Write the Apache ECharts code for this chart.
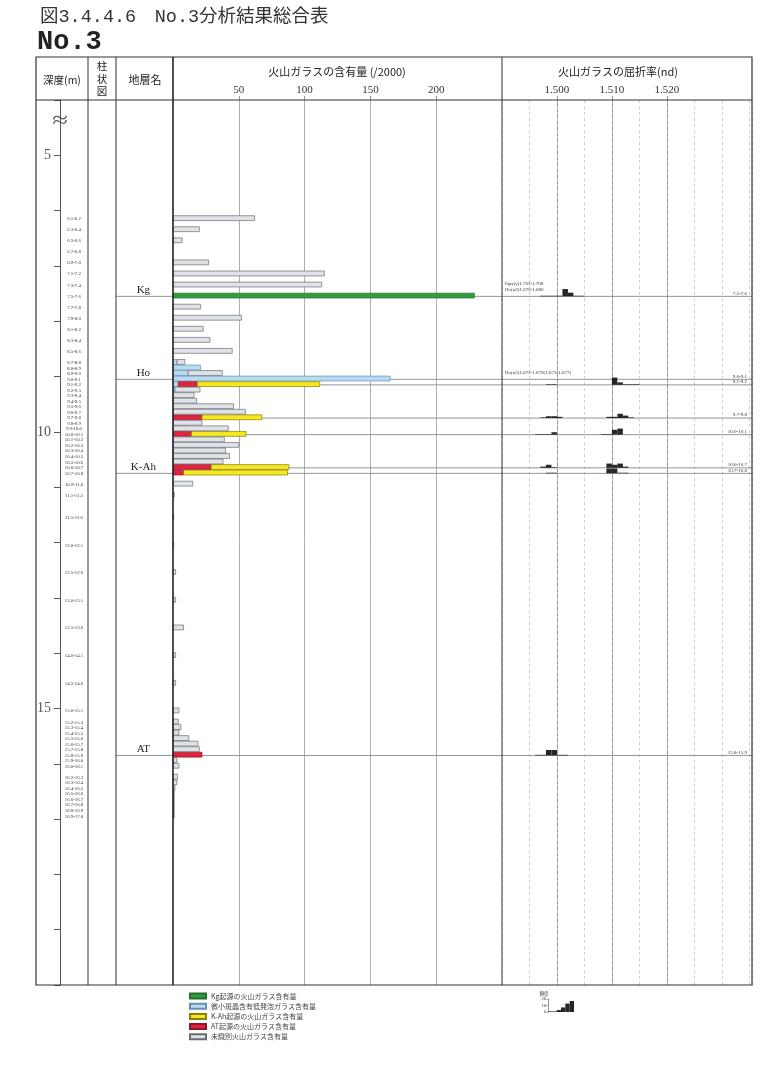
<!DOCTYPE html>
<html><head><meta charset="utf-8">
<script src="https://cdn.jsdelivr.net/npm/echarts@6.0.0/dist/echarts.min.js"></script>
<style>html,body{margin:0;padding:0;background:#fff}#c{width:768px;height:1070px}</style>
</head><body><div id="c"></div>
<script>
// ---------------- DATA ----------------
const sampleLabels = [
 '6.1-6.2','6.3-6.4','6.5-6.6','6.7-6.8','6.9-7.0','7.1-7.2','7.3-7.4','7.5-7.6','7.7-7.8','7.9-8.0',
 '8.1-8.2','8.3-8.4','8.5-8.6','8.7-8.8','8.8-8.9','8.9-9.0','9.0-9.1','9.1-9.2','9.2-9.3','9.3-9.4',
 '9.4-9.5','9.5-9.6','9.6-9.7','9.7-9.8','9.8-9.9','9.9-10.0','10.0-10.1','10.1-10.2','10.2-10.3','10.3-10.4',
 '10.4-10.5','10.5-10.6','10.6-10.7','10.7-10.8','10.9-11.0','11.1-11.2','11.5-11.6','12.0-12.1','12.5-12.6','13.0-13.1',
 '13.5-13.6','14.0-14.1','14.5-14.6','15.0-15.1','15.2-15.3','15.3-15.4','15.4-15.5','15.5-15.6','15.6-15.7','15.7-15.8',
 '15.8-15.9','15.9-16.0','16.0-16.1','16.2-16.3','16.3-16.4','16.4-16.5','16.5-16.6','16.6-16.7','16.7-16.8','16.8-16.9',
 '16.9-17.0'];
// glass content (/2000), aligned with sampleLabels
const kgGlass = [
 0,0,0,0,0,0,0,229,0,0,
 0,0,0,0,0,0,0,0,0,0,
 0,0,0,0,0,0,0,0,0,0,
 0,0,0,0,0,0,0,0,0,0,
 0,0,0,0,0,0,0,0,0,0,
 0,0,0,0,0,0,0,0,0,0,
 0];
const lowVesGlass = [
 0,0,0,0,0,0,0,0,0,0,
 0,0,0,3,21,11.5,165,4,1.5,0,
 0,0,0,0,0,0,0,0,0,0,
 0,0,0,0,0,0,0,0,0,0,
 0,0,0,0,0,0,0,0,0,0,
 0,0,0,0,0,0,0,0,0,0,
 0];
const atGlass = [
 0,0,0,0,0,0,0,0,0,0,
 0,0,0,0,0,0,0,14.5,0,0,
 0,0,0,22,0,0,14,0,0,0,
 0,0,29,8,0,0,0,0,0,0,
 0,0,0,0,0,0,0,0,0,0,
 22,0,0,0,0,0,0,0,0,0,
 0];
const kahGlass = [
 0,0,0,0,0,0,0,0,0,0,
 0,0,0,0,0,0,0,93,0,0,
 0,0,0,45.5,0,0,41.5,0,0,0,
 0,0,59,79,0,0,0,0,0,0,
 0,0,0,0,0,0,0,0,0,0,
 0,0,0,0,0,0,0,0,0,0,
 0];
const unknownGlass = [
 62,20,7,0,27,115,113,0,21,52,
 23,28,45,6,0,26,0,0,19,16,
 18,46,55,0,22,42,0,39,50,40,
 43,38,0,0,15,1,0.5,0.5,2,2,
 8,2,2,4.5,4,6,4.5,12,19,20,
 0,3,4.5,3.5,3,1.5,1,1,1,1,
 1];
const contentTicks = [50,100,150,200];
const riTicks = [1.500,1.510,1.520];
const depthLabels = [5,10,15];

const layerNames = ['Kg','Ho','K-Ah','AT'];
const layerDepths = [7.55, 9.05, 10.75, 15.85];

const analyzedLabels = ['7.5-7.6','9.0-9.1','9.1-9.2','9.7-9.8','10.0-10.1','10.6-10.7','10.7-10.8','15.8-15.9'];
// refractive index histograms: bin lower edges (width 0.001) and counts
const histBins = [1.495,1.496,1.497,1.498,1.499,1.500,1.501,1.502,1.503,1.504,1.505,1.506,1.507,1.508,1.509,1.510,1.511,1.512,1.513,1.514,1.515];
const histCounts = [
 [0,0,1,1,1,1,12,6,1,1,0,0,0,0,0,0,0,0,0,0,0],  // 7.5-7.6
 [0,0,0,0,0,0,0,0,0,0,0,0,0,0,0,0,0,0,0,0,0],   // 9.0-9.1
 [0,0,0,1,1,0,0,0,0,0,0,0,0,0,0,12,4,1,1,1,0],  // 9.1-9.2
 [0,0,1,3,3,2,0,0,0,0,0,0,0,0,2,2,7,4,1,0,0],   // 9.7-9.8
 [0,1,1,1,4,0,0,0,0,0,0,0,0,1,1,8,10,0,0,0,0],  // 10.0-10.1
 [0,0,2,5,1,0,0,0,0,0,0,0,0,0,7,5,7,2,0,0,0],   // 10.6-10.7
 [0,0,0,1,1,0,0,0,0,0,0,0,0,0,8,8,1,1,0,0,0],   // 10.7-10.8
 [0,1,1,9,9,1,1,0,0,0,0,0,0,0,0,0,0,0,0,0,0]    // 15.8-15.9
];
const mineralNotes = ['Opx(γ)1.703-1.708\nHo(n2)1.670-1.680', 'Ho(n2)1.672-1.679(1.673-1.677)'];
const mineralNoteDepths = [7.55, 9.05];
const scaleHist = [1,1,3,7,13,17];
const scaleTicks = [0,10,20];

const compNames = ['Kg起源の火山ガラス含有量','微小斑晶含有低発泡ガラス含有量','AT起源の火山ガラス含有量','K-Ah起源の火山ガラス含有量','未識別火山ガラス含有量'];
const legendOrder = ['Kg起源の火山ガラス含有量','微小斑晶含有低発泡ガラス含有量','K-Ah起源の火山ガラス含有量','AT起源の火山ガラス含有量','未識別火山ガラス含有量'];

// ---------------- BUILD ----------------
const midDepth = s => { const p = s.split('-').map(Number); return (p[0] + p[1]) / 2; };
const sampleDepths = sampleLabels.map(midDepth);
const analyzedDepths = analyzedLabels.map(midDepth);
const comps = [kgGlass, lowVesGlass, atGlass, kahGlass, unknownGlass];
const compColors = ['#2f9e3f', '#b6dcf3', '#e3223f', '#f6e81e', '#dfe3e8'];
const compBorders = ['#2a6e2e', '#6b8ea6', '#8a1a2a', '#8a8010', '#6a6e74'];

const SERIF = "'Liberation Serif','DejaVu Serif',serif";
const JP = "'Noto Sans CJK JP','Noto Sans',sans-serif";
const DMIN = 4, DMAX = 20;
const RIMIN = 1.490, RIMAX = 1.5355;
const HSCALE = 0.011; // depth units per count

function stackData(ci) {
  const out = [];
  sampleDepths.forEach((d, i) => {
    let b = 0;
    for (let k = 0; k < ci; k++) b += comps[k][i];
    const v = comps[ci][i];
    if (v > 0) out.push([d, b, b + v]);
  });
  return out;
}

const barSeries = compNames.map((nm, ci) => ({
  name: nm, type: 'custom', xAxisIndex: 2, yAxisIndex: 2, z: 5,
  itemStyle: { color: compColors[ci], borderColor: compBorders[ci], borderWidth: 0.7 },
  data: stackData(ci),
  renderItem: (params, api) => {
    const d = api.value(0), x0 = api.value(1), x1 = api.value(2);
    const a = api.coord([x0, d - 0.058]), b = api.coord([x1, d + 0.03]);
    return { type: 'rect', shape: { x: a[0], y: a[1], width: b[0] - a[0], height: b[1] - a[1] },
      style: { fill: compColors[ci], stroke: compBorders[ci], lineWidth: 0.7 } };
  }
}));

const histData = [];
analyzedDepths.forEach((d, i) => {
  histCounts[i].forEach((c, j) => { if (c > 0) histData.push([histBins[j], d, c]); });
});

const yHidden = gi => ({ type: 'value', gridIndex: gi, min: DMIN, max: DMAX, inverse: true, show: false });

const option = {
  backgroundColor: '#fff',
  animation: false,
  grid: [
    { left: 60, top: 100, width: 28, height: 885, outerBoundsMode: 'none' },
    { left: 116, top: 100, width: 57, height: 885, outerBoundsMode: 'none' },
    { left: 173, top: 100, width: 329, height: 885, outerBoundsMode: 'none' },
    { left: 502, top: 100, width: 250, height: 885, outerBoundsMode: 'none' },
    { left: 548, top: 999, width: 26, height: 13, outerBoundsMode: 'none' }
  ],
  xAxis: [
    { type: 'value', gridIndex: 0, min: 0, max: 1, show: false },
    { type: 'value', gridIndex: 1, min: 0, max: 1, show: false },
    { type: 'value', gridIndex: 2, min: 0, max: 250, interval: 50, position: 'top',
      axisLine: { show: false },
      axisTick: { show: true, length: 4, lineStyle: { color: '#777', width: 0.8 },
        customValues: contentTicks },
      axisLabel: { margin: 4, fontSize: 11, fontFamily: SERIF, color: '#333',
        customValues: contentTicks, formatter: v => String(v) },
      splitLine: { show: true, lineStyle: { color: '#9a9a9a', width: 0.8 } } },
    { type: 'value', gridIndex: 3, min: RIMIN, max: RIMAX, interval: 0.01, position: 'top',
      axisLine: { show: false },
      axisTick: { show: true, length: 4, lineStyle: { color: '#777', width: 0.8 }, customValues: riTicks },
      axisLabel: { margin: 4, fontSize: 11, fontFamily: SERIF, color: '#333',
        customValues: riTicks, formatter: v => v.toFixed(3) },
      splitLine: { show: true, lineStyle: { color: '#8a8a8a', width: 0.9 } } },
    { type: 'value', gridIndex: 3, min: RIMIN, max: RIMAX, interval: 0.005, position: 'bottom',
      axisLine: { show: false }, axisTick: { show: false }, axisLabel: { show: false },
      splitLine: { show: true, lineStyle: { color: '#c4c4c4', width: 0.8, type: [3, 3] } } },
    { type: 'category', gridIndex: 4, data: scaleHist.map((v, i) => i), show: false, boundaryGap: true }
  ],
  yAxis: [
    { type: 'value', gridIndex: 0, min: DMIN, max: DMAX, interval: 1, inverse: true,
      axisLine: { show: true, lineStyle: { color: '#555', width: 1 } },
      axisTick: { show: true, length: 6, lineStyle: { color: '#555', width: 1 } },
      axisLabel: { margin: 9, fontSize: 14, fontFamily: SERIF, color: '#555',
        customValues: depthLabels, formatter: v => String(v) },
      splitLine: { show: false } },
    yHidden(1), yHidden(2), yHidden(3),
    { type: 'value', gridIndex: 4, min: 0, max: 20, interval: 10, position: 'left',
      axisLine: { show: true, lineStyle: { color: '#555', width: 0.6 } },
      axisTick: { show: true, length: 1.5, lineStyle: { color: '#555', width: 0.6 } },
      axisLabel: { margin: 2, fontSize: 4.5, fontFamily: SERIF, color: '#333', customValues: scaleTicks },
      splitLine: { show: false } }
  ],
  legend: {
    left: 184, top: 987, orient: 'vertical', icon: 'rect',
    itemWidth: 16, itemHeight: 5, itemGap: 2.2,
    data: legendOrder, selectedMode: false,
    textStyle: { fontSize: 7, fontFamily: JP, color: '#444', lineHeight: 8 }
  },
  graphic: [
    { type: 'text', left: 40, top: 8, style: { text: '図3.4.4.6　No.3分析結果総合表', font: "18.5px 'Liberation Mono','Noto Sans CJK JP'", fill: '#333' } },
    { type: 'text', left: 37, top: 29, style: { text: 'No.3', font: "bold 27px 'Liberation Mono','DejaVu Sans Mono'", fill: '#222' } },
    // frame
    { type: 'rect', shape: { x: 36, y: 57, width: 716, height: 928 }, style: { fill: null, stroke: '#333', lineWidth: 1.2 }, z: 10 },
    { type: 'line', shape: { x1: 36, y1: 100, x2: 752, y2: 100 }, style: { stroke: '#333', lineWidth: 1 }, z: 10 },
    { type: 'line', shape: { x1: 88, y1: 57, x2: 88, y2: 985 }, style: { stroke: '#333', lineWidth: 1 }, z: 10 },
    { type: 'line', shape: { x1: 116, y1: 57, x2: 116, y2: 985 }, style: { stroke: '#333', lineWidth: 1 }, z: 10 },
    { type: 'line', shape: { x1: 173, y1: 57, x2: 173, y2: 985 }, style: { stroke: '#222', lineWidth: 1.6 }, z: 10 },
    { type: 'line', shape: { x1: 502, y1: 57, x2: 502, y2: 985 }, style: { stroke: '#333', lineWidth: 1 }, z: 10 },
    // header texts
    { type: 'text', x: 62, y: 80, style: { text: '深度(m)', font: "10.5px " + JP, fill: '#222', align: 'center', verticalAlign: 'middle' } },
    { type: 'text', x: 102, y: 79, style: { text: '柱\n状\n図', font: "10.5px " + JP, fill: '#222', align: 'center', verticalAlign: 'middle', lineHeight: 12.5 } },
    { type: 'text', x: 145, y: 80, style: { text: '地層名', font: "11px " + JP, fill: '#222', align: 'center', verticalAlign: 'middle' } },
    { type: 'text', x: 337, y: 72, style: { text: '火山ガラスの含有量 (/2000)', font: "11px " + JP, fill: '#222', align: 'center', verticalAlign: 'middle' } },
    { type: 'text', x: 618, y: 72, style: { text: '火山ガラスの屈折率(nd)', font: "11px " + JP, fill: '#222', align: 'center', verticalAlign: 'middle' } },
    // depth axis break
    { type: 'text', x: 60, y: 121, scaleX: 1.3, style: { text: '≈', font: "22px " + SERIF, fill: '#555', align: 'center', verticalAlign: 'middle' }, z: 10 },
    // scale legend title
    { type: 'text', x: 544, y: 993, style: { text: '頻度', font: "4.5px " + JP, fill: '#333', align: 'center', verticalAlign: 'middle' } }
  ],
  series: [
    // sample labels (depth column)
    { type: 'custom', xAxisIndex: 0, yAxisIndex: 0, data: sampleDepths.map(d => [0.5, d]),
      renderItem: (params, api) => {
        const p = api.coord([api.value(0), api.value(1)]);
        return { type: 'text', x: p[0], y: p[1], style: { text: sampleLabels[params.dataIndex], fontSize: 4.8, fontFamily: SERIF, fill: '#333', align: 'center', verticalAlign: 'middle' } };
      } },
    // layer names and lines
    { type: 'custom', xAxisIndex: 1, yAxisIndex: 1, data: layerDepths.map(d => [d]),
      renderItem: (params, api) => {
        const d = api.value(0);
        const a = api.coord([0, d]), b = api.coord([1, d]), c = api.coord([0.48, d]);
        return { type: 'group', children: [
          { type: 'line', shape: { x1: a[0], y1: a[1], x2: b[0], y2: b[1] }, style: { stroke: '#888', lineWidth: 0.9 } },
          { type: 'text', x: c[0], y: c[1] - 1, style: { text: layerNames[params.dataIndex], font: "11px " + SERIF, fill: '#222', align: 'center', verticalAlign: 'bottom' } }
        ] };
      } },
    // sample lines across content panel
    { type: 'custom', xAxisIndex: 2, yAxisIndex: 2, z: 2, data: analyzedDepths.map(d => [d]),
      renderItem: (params, api) => {
        const d = api.value(0);
        const a = api.coord([0, d]), b = api.coord([250, d]);
        return { type: 'line', shape: { x1: a[0], y1: a[1], x2: b[0], y2: b[1] }, style: { stroke: '#8a8a8a', lineWidth: 0.9 } };
      } },
    ...barSeries,
    // sample lines and labels across refractive-index panel
    { type: 'custom', xAxisIndex: 3, yAxisIndex: 3, z: 2, data: analyzedDepths.map(d => [d]),
      renderItem: (params, api) => {
        const d = api.value(0);
        const a = api.coord([RIMIN, d]), b = api.coord([RIMAX, d]);
        return { type: 'group', children: [
          { type: 'line', shape: { x1: a[0], y1: a[1], x2: b[0], y2: b[1] }, style: { stroke: '#8a8a8a', lineWidth: 0.9 } },
          { type: 'text', x: b[0] - 5, y: b[1] - 0.6, style: { text: analyzedLabels[params.dataIndex], fontSize: 5, fontFamily: SERIF, fill: '#333', align: 'right', verticalAlign: 'bottom' } }
        ] };
      } },
    // histograms
    { type: 'custom', xAxisIndex: 3, yAxisIndex: 3, z: 4, data: histData,
      renderItem: (params, api) => {
        const x0 = api.value(0), d = api.value(1), c = api.value(2);
        const a = api.coord([x0, d - c * HSCALE]), b = api.coord([x0 + 0.001, d]);
        return { type: 'rect', shape: { x: a[0], y: a[1], width: b[0] - a[0], height: b[1] - a[1] }, style: { fill: '#262626' } };
      } },
    // mineral notes
    { type: 'custom', xAxisIndex: 3, yAxisIndex: 3, z: 4, data: mineralNoteDepths.map(d => [d]),
      renderItem: (params, api) => {
        const p = api.coord([RIMIN, api.value(0) - 0.07]);
        return { type: 'text', x: p[0] + 3, y: p[1], style: { text: mineralNotes[params.dataIndex], fontSize: 5, fontFamily: SERIF, fill: '#333', align: 'left', verticalAlign: 'bottom', lineHeight: 6 } };
      } },
    // scale legend histogram
    { type: 'bar', xAxisIndex: 5, yAxisIndex: 4, data: scaleHist, barCategoryGap: '0%', itemStyle: { color: '#262626' }, silent: true }
  ]
};
const chart = echarts.init(document.getElementById('c'));
chart.setOption(option);
</script></body></html>
